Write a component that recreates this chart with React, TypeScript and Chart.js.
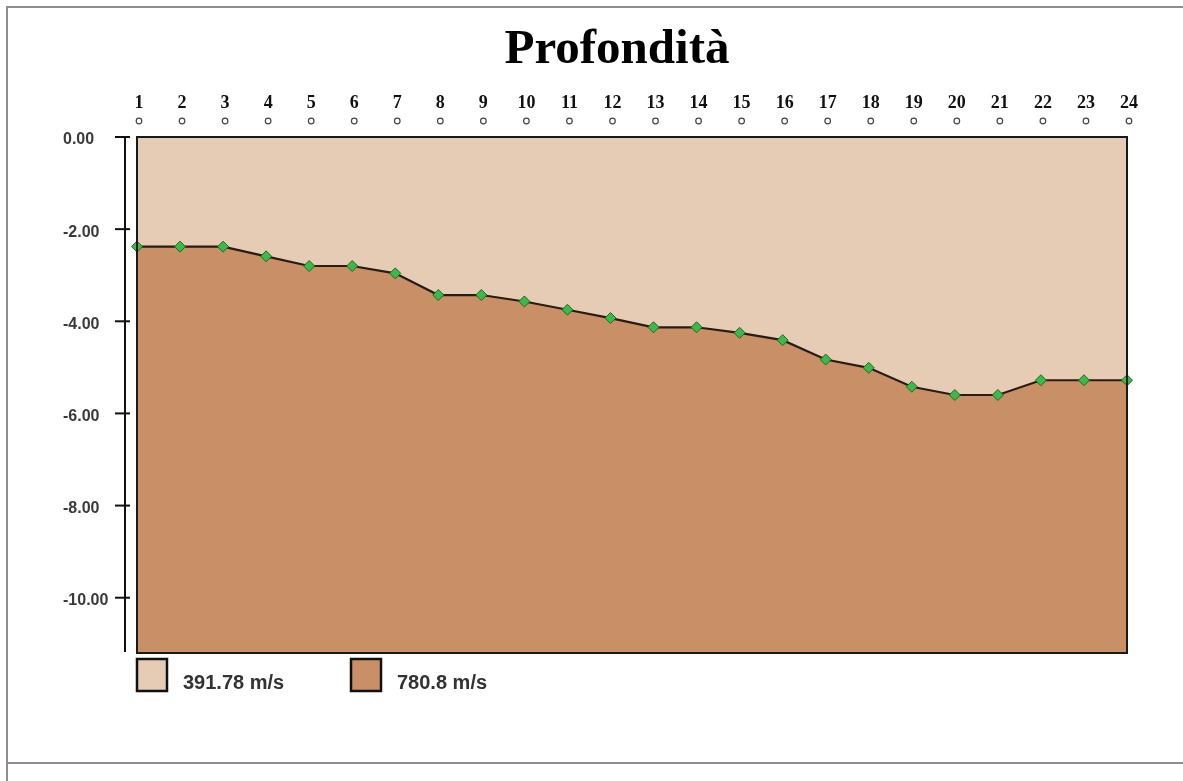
import React, { useEffect, useRef } from "react";
import { Chart, registerables } from "chart.js";

Chart.register(...registerables);

const titleText = "Profondità";
const categories = ["1", "2", "3", "4", "5", "6", "7", "8", "9", "10", "11", "12", "13", "14", "15", "16", "17", "18", "19", "20", "21", "22", "23", "24"];
const depths = [-2.38, -2.38, -2.38, -2.59, -2.8, -2.8, -2.96, -3.43, -3.43, -3.57, -3.75, -3.93, -4.13, -4.13, -4.25, -4.41, -4.83, -5.01, -5.42, -5.6, -5.6, -5.28, -5.28, -5.28];
const layerLabels = ["391.78 m/s", "780.8 m/s"];
const layerColors = ["#E6CBB5", "#C98F66"];
const yMin = -11.2;
const yMax = 0;
const yStep = 2;

const W = 1183;
const H = 781;

const decorPlugin = {
  id: "decor",
  beforeDraw(chart: any) {
    const ctx = chart.ctx as CanvasRenderingContext2D;
    const { left, top, right, bottom } = chart.chartArea;
    ctx.save();
    ctx.fillStyle = "#ffffff";
    ctx.fillRect(0, 0, chart.width, chart.height);
    // outer frame
    ctx.strokeStyle = "#8e8e8e";
    ctx.lineWidth = 2;
    ctx.beginPath();
    ctx.moveTo(7, chart.height);
    ctx.lineTo(7, 7);
    ctx.lineTo(chart.width, 7);
    ctx.stroke();
    ctx.beginPath();
    ctx.moveTo(7, 763);
    ctx.lineTo(chart.width, 763);
    ctx.stroke();
    // upper layer background
    ctx.fillStyle = layerColors[0];
    ctx.fillRect(left, top, right - left, bottom - top);

    // title
    ctx.fillStyle = "#000";
    ctx.font = "bold 49px 'Liberation Serif'";
    ctx.textAlign = "center";
    ctx.textBaseline = "alphabetic";
    ctx.fillText(titleText, 617, 63);

    // top station labels with circles
    const xs = chart.scales.x;
    ctx.font = "bold 18px 'Liberation Serif'";
    ctx.fillStyle = "#111";
    categories.forEach((c, i) => {
      const px = xs.getPixelForValue(i);
      ctx.fillText(c, px + 2, 108);
      ctx.beginPath();
      ctx.arc(px + 2, 121, 2.8, 0, Math.PI * 2);
      ctx.fillStyle = "#fff";
      ctx.fill();
      ctx.strokeStyle = "#444";
      ctx.lineWidth = 1.2;
      ctx.stroke();
      ctx.fillStyle = "#111";
    });

    // y axis
    const ys = chart.scales.y;
    ctx.strokeStyle = "#111";
    ctx.lineWidth = 2;
    ctx.beginPath();
    ctx.moveTo(125, top);
    ctx.lineTo(125, bottom - 1);
    ctx.stroke();
    ctx.font = "bold 16px 'Liberation Sans'";
    ctx.textAlign = "left";
    ctx.textBaseline = "middle";
    let ticks: number[] = (ys.ticks || []).map((t: any) => t.value).filter((v: number) => Math.abs(v / yStep - Math.round(v / yStep)) < 1e-6);
    if (!ticks.length) {
      for (let v = yMax; v >= yMin; v -= yStep) ticks.push(v);
    }
    ticks.forEach((v) => {
      const py = ys.getPixelForValue(v);
      ctx.beginPath();
      ctx.moveTo(115, py);
      ctx.lineTo(130, py);
      ctx.stroke();
      ctx.fillStyle = "#3a3a3a";
      ctx.fillText(v.toFixed(2), 63, py + 3);
    });

    // legend
    const boxes = [137, 351];
    ctx.font = "bold 20px 'Liberation Sans'";
    ctx.textBaseline = "alphabetic";
    layerLabels.forEach((lab, i) => {
      const bx = boxes[i];
      ctx.fillStyle = layerColors[i];
      ctx.fillRect(bx, 659, 30, 32);
      ctx.strokeStyle = "#111";
      ctx.lineWidth = 2.5;
      ctx.strokeRect(bx, 659, 30, 32);
      ctx.fillStyle = "#333";
      ctx.fillText(lab, bx + 46, 689);
    });
    ctx.restore();
  },
  afterDatasetsDraw(chart: any) {
    const ctx = chart.ctx as CanvasRenderingContext2D;
    const { left, top, right, bottom } = chart.chartArea;
    ctx.save();
    ctx.strokeStyle = "#1a1a1a";
    ctx.lineWidth = 2;
    ctx.strokeRect(left, top, right - left, bottom - top);
    ctx.restore();
  },
};

export default function App() {
  const ref = useRef<HTMLCanvasElement | null>(null);
  useEffect(() => {
    if (!ref.current) return;
    const chart = new Chart(ref.current, {
      type: "line",
      data: {
        labels: categories,
        datasets: [
          {
            label: layerLabels[1],
            data: depths,
            fill: "start",
            backgroundColor: layerColors[1],
            borderColor: "#2a1c12",
            borderWidth: 2.2,
            tension: 0,
            pointStyle: "rectRot",
            pointRadius: 5.5,
            pointBackgroundColor: "#3fb84a",
            pointBorderColor: "#1d6a26",
            pointBorderWidth: 1,
          },
        ],
      },
      options: {
        animation: false,
        responsive: false,
        devicePixelRatio: 1,
        layout: { padding: { left: 137, right: W - 1127, top: 137, bottom: H - 653 } },
        plugins: { legend: { display: false }, tooltip: { enabled: false }, title: { display: false } },
        scales: {
          x: { display: false, offset: false },
          y: { display: false, min: yMin, max: yMax, ticks: { stepSize: yStep, includeBounds: false } },
        },
      },
      plugins: [decorPlugin],
    });
    return () => chart.destroy();
  }, []);
  return (
    <div style={{ position: "absolute", left: 0, top: 0, width: W, height: H, background: "#fff" }}>
      <canvas ref={ref} width={W} height={H} style={{ display: "block", width: W, height: H }} />
    </div>
  );
}
